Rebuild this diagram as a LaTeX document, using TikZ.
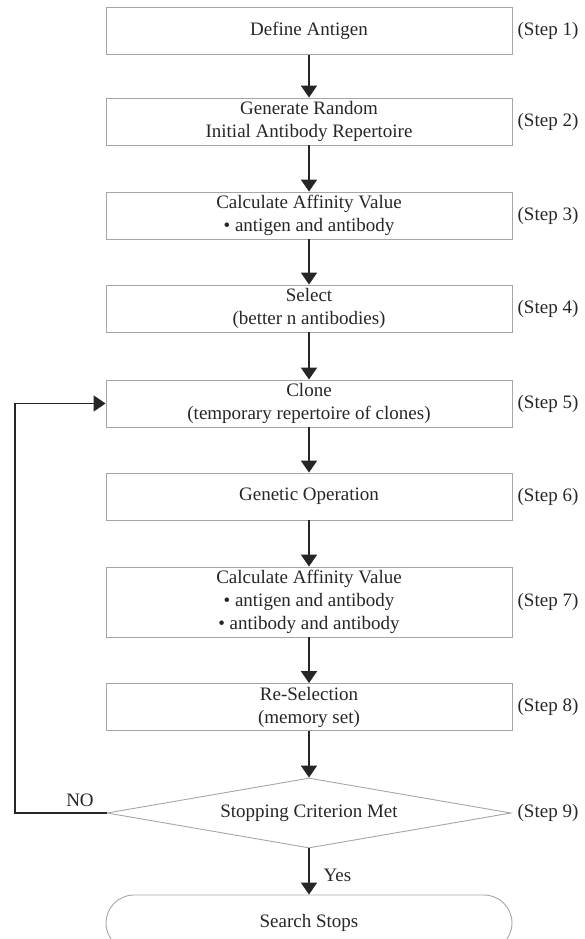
\documentclass[tikz,border=0pt]{standalone}
\usepackage{fontspec}
\setmainfont{Liberation Serif}
\usetikzlibrary{arrows.meta,shapes.geometric}
\begin{document}
\begin{tikzpicture}[x=1pt,y=-1pt,
    stepbox/.style={draw=black!35,line width=0.9pt,minimum width=406pt,minimum height=47pt,
        inner sep=0pt,align=center,text=black!85,font=\fontsize{19}{23}\selectfont},
    flow/.style={line width=1.9pt,draw=black!85,-{Triangle[width=16pt,length=12pt]}},
    steplabel/.style={text=black!85,font=\fontsize{19}{23}\selectfont}]
    \useasboundingbox (0,0) rectangle (585,939);
    \clip (0,0) rectangle (585,939);

    % Steps of the algorithm
    \node[stepbox] (define) at (309,31) {Define Antigen};
    \node[stepbox] (generate) at (309,121.5) {Generate Random\\Initial Antibody Repertoire};
    \node[stepbox] (affinity) at (309,215.5) {Calculate Affinity Value\\\textbullet\ antigen and antibody};
    \node[stepbox] (select) at (309,308.5) {Select\\(better n antibodies)};
    \node[stepbox] (clone) at (309,403.5) {Clone\\(temporary repertoire of clones)};
    \node[stepbox] (genetic) at (309,496.5) {Genetic Operation};
    \node[stepbox,minimum height=70pt] (reaffinity) at (309,602)
        {Calculate Affinity Value\\\textbullet\ antigen and antibody\\\textbullet\ antibody and antibody};
    \node[stepbox] (reselect) at (309,707) {Re-Selection\\(memory set)};
    \node[stepbox,diamond,aspect=5.8,minimum width=404pt,minimum height=70pt] (criterion) at (309,813)
        {Stopping Criterion Met};
    \node[stepbox,rounded corners=28pt,minimum height=56pt] (stops) at (309,923) {Search Stops};

    % Step numbers
    \foreach \n/\y in {1/31, 2/121.5, 3/215.5, 4/308.5, 5/403.5, 6/496.5, 7/602, 8/707, 9/813} {
        \node[steplabel] (step\n) at (548,\y) {(Step \n)};
    }

    % Main flow
    \foreach \a/\b in {define/generate, generate/affinity, affinity/select, select/clone,
        clone/genetic, genetic/reaffinity, reaffinity/reselect, reselect/criterion, criterion/stops} {
        \draw[flow] (\a) -- (\b);
    }

    % Loop back
    \coordinate (back) at (15,0);
    \draw[flow] (criterion.west) -- (criterion.west -| back) |- (clone.west);
    \node[steplabel] (no) at (80,800) {NO};
    \node[steplabel,anchor=west] (yes) at (320,875) {Yes};
\end{tikzpicture}
\end{document}
